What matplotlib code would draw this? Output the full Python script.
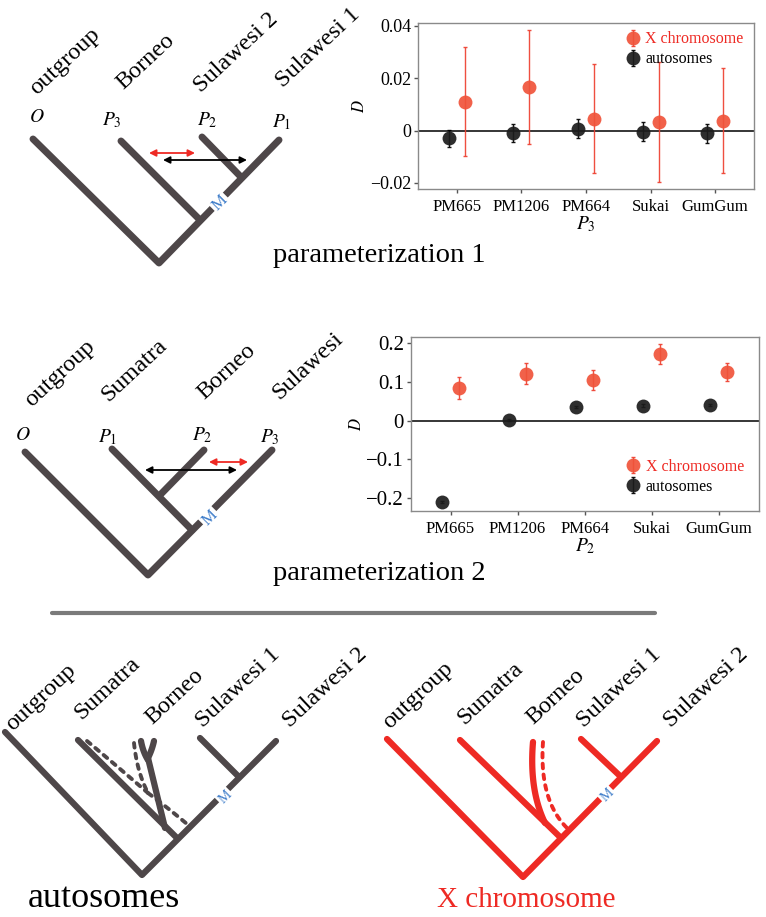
import numpy as np
import matplotlib
matplotlib.use('Agg')
import matplotlib.pyplot as plt

plt.rcParams.update({
    'font.family': 'Liberation Serif',
    'mathtext.fontset': 'stix',
})

# ---- D statistics ----
samples = ['PM665', 'PM1206', 'PM664', 'Sukai', 'GumGum']

p1_auto = [-0.0028, -0.0009, 0.0008, -0.0004, -0.0011]
p1_auto_lo = [-0.0064, -0.0045, -0.0028, -0.0041, -0.0047]
p1_auto_hi = [0.0004, 0.0027, 0.0046, 0.0032, 0.0027]
p1_x = [0.0108, 0.0166, 0.0046, 0.0033, 0.0038]
p1_x_lo = [-0.0098, -0.0053, -0.0162, -0.0196, -0.0162]
p1_x_hi = [0.0318, 0.0386, 0.0256, 0.0262, 0.0238]

p2_auto = [-0.209, 0.001, 0.036, 0.039, 0.040]
p2_auto_lo = [-0.212, -0.002, 0.033, 0.036, 0.037]
p2_auto_hi = [-0.206, 0.004, 0.039, 0.042, 0.043]
p2_x = [0.084, 0.120, 0.105, 0.172, 0.126]
p2_x_lo = [0.056, 0.094, 0.079, 0.146, 0.103]
p2_x_hi = [0.112, 0.148, 0.131, 0.198, 0.148]

# ---- tree diagrams (page pixels, y down) ----
t1_names = ['outgroup', 'Borneo', 'Sulawesi 2', 'Sulawesi 1']
t1_name_xy = [(37, 95), (123, 90), (201, 93), (283, 88)]
t1_tags = ['$O$', '$P_3$', '$P_2$', '$P_1$']
t1_tag_xy = [(37, 118), (112, 120), (207, 120), (282, 122)]
t1_branches = [[(33, 139), (159, 263), (279, 140)],
               [(121, 141), (200, 220)],
               [(202, 137), (241, 177)]]
t1_m = (220, 203)
t1_red_arrow = [(149, 153), (195, 153)]
t1_black_arrow = [(163, 160), (247, 160)]

t2_names = ['outgroup', 'Sumatra', 'Borneo', 'Sulawesi']
t2_name_xy = [(32, 407), (108, 402), (204, 400), (279, 400)]
t2_tags = ['$O$', '$P_1$', '$P_2$', '$P_3$']
t2_tag_xy = [(23, 435), (108, 437), (202, 435), (270, 437)]
t2_branches = [[(25, 452), (148, 575), (272, 450)],
               [(112, 449), (192, 530)],
               [(204, 450), (161, 494)]]
t2_m = (210, 518)
t2_red_arrow = [(209, 462), (248, 462)]
t2_black_arrow = [(145, 470), (237, 470)]

t3_names = ['outgroup', 'Sumatra', 'Borneo', 'Sulawesi 1', 'Sulawesi 2']
t3_name_xy = [(13, 731), (81, 720), (152, 725), (203, 728), (290, 728)]
t3_branches = [[(5, 732), (142, 875), (276, 741)],
               [(78, 740), (177, 838)],
               [(200, 738), (238, 776)],
               [(148, 758), (165, 828)]]
t3_curves = [[(141, 741), (143, 752), (148, 760)],
             [(154, 741), (152, 750), (148, 758)]]
t3_dashed = [[(87, 741), (118, 767), (148, 793)],
             [(134, 743), (137, 772), (148, 793)],
             [(148, 793), (168, 808), (187, 824)]]
t3_m = (225, 797)

t4_names = ['outgroup', 'Sumatra', 'Borneo', 'Sulawesi 1', 'Sulawesi 2']
t4_name_xy = [(390, 729), (464, 725), (533, 725), (584, 728), (671, 728)]
t4_branches = [[(387, 739), (523, 877), (657, 741)],
               [(460, 740), (560, 837)],
               [(581, 739), (619, 775)]]
t4_curves = [[(533, 742), (529, 790), (545, 823)]]
t4_dashed = [[(543, 742), (539, 800), (567, 828)]]
t4_m = (607, 795)

sep_line = [(52, 613), (655, 613)]

GREY = '#4e4749'
RED = '#ee2a24'
BLUE = '#3d7cc9'
PT_RED = '#f0533a'

fig = plt.figure(figsize=(7.66, 9.17), dpi=100)
bg = fig.add_axes([0, 0, 1, 1])
bg.set_xlim(0, 766)
bg.set_ylim(917, 0)
bg.axis('off')


def bezier(p):
    t = np.linspace(0, 1, 40)[:, None]
    p = np.array(p, dtype=float)
    pts = (1 - t) ** 2 * p[0] + 2 * (1 - t) * t * p[1] + t ** 2 * p[2]
    return pts[:, 0], pts[:, 1]


def draw_tree(branches, names, name_xy, color, lw, m_xy, m_size,
              curves=(), dashed=(), tags=None, tag_xy=None):
    for b in branches:
        xs, ys = zip(*b)
        bg.plot(xs, ys, color=color, lw=lw, solid_capstyle='round',
                solid_joinstyle='round', zorder=2)
    for c in curves:
        xs, ys = bezier(c)
        bg.plot(xs, ys, color=color, lw=lw, solid_capstyle='round', zorder=2)
    for d in dashed:
        xs, ys = bezier(d)
        bg.plot(xs, ys, color=color, lw=lw * 0.62, ls=(0, (1.2, 1.6)),
                dash_capstyle='round', zorder=2)
    for n, (x, y) in zip(names, name_xy):
        bg.text(x, y, n, rotation=43, rotation_mode='anchor', ha='left',
                va='baseline', fontsize=17.5)
    if tags is not None:
        for tg, (x, y) in zip(tags, tag_xy):
            bg.text(x, y, tg, ha='center', va='center', fontsize=14)
    bg.text(m_xy[0], m_xy[1], 'M', rotation=45, color=BLUE, fontsize=m_size,
            ha='center', va='center', zorder=5,
            bbox=dict(boxstyle='square,pad=0.12', fc='white', ec='none'))


def arrow(seg, color):
    bg.annotate('', xy=seg[1], xytext=seg[0],
                arrowprops=dict(arrowstyle='<|-|>', color=color, lw=1.3,
                                mutation_scale=10, shrinkA=0, shrinkB=0))


draw_tree(t1_branches, t1_names, t1_name_xy, GREY, 5, t1_m, 12,
          tags=t1_tags, tag_xy=t1_tag_xy)
arrow(t1_red_arrow, RED)
arrow(t1_black_arrow, 'black')
bg.text(273, 262, 'parameterization 1', fontsize=20.5, ha='left', va='baseline')

draw_tree(t2_branches, t2_names, t2_name_xy, GREY, 5, t2_m, 12,
          tags=t2_tags, tag_xy=t2_tag_xy)
arrow(t2_red_arrow, RED)
arrow(t2_black_arrow, 'black')
bg.text(273, 580, 'parameterization 2', fontsize=20.5, ha='left', va='baseline')

xs, ys = zip(*sep_line)
bg.plot(xs, ys, color='#7a7a7a', lw=3, solid_capstyle='round')

draw_tree(t3_branches, t3_names, t3_name_xy, GREY, 4.5, t3_m, 10,
          curves=t3_curves, dashed=t3_dashed)
bg.text(28, 907, 'autosomes', fontsize=26, ha='left', va='baseline')

draw_tree(t4_branches, t4_names, t4_name_xy, RED, 4.5, t4_m, 10,
          curves=t4_curves, dashed=t4_dashed)
bg.text(437, 907, 'X chromosome', fontsize=21, color=RED, ha='left',
        va='baseline')


# ---- D statistic panels ----
def panel(rect, auto, auto_lo, auto_hi, xv, x_lo, x_hi, ylim, xlim, yticks,
          ylabels, ytick_size, xlab, leg_anchor):
    W, H = 766.0, 917.0
    l, t, r, b = rect
    ax = fig.add_axes([l / W, 1 - b / H, (r - l) / W, (b - t) / H])
    pos = np.arange(1, len(samples) + 1)
    auto = np.array(auto)
    xv = np.array(xv)
    ax.axhline(0, color='black', lw=1.1, zorder=1)
    hx = ax.errorbar(pos + 0.125, xv,
                     yerr=[xv - np.array(x_lo), np.array(x_hi) - xv],
                     fmt='o', ms=10, color=PT_RED, mec='none', ecolor='#ee4030',
                     elinewidth=1, capsize=1.5, capthick=1, alpha=0.92,
                     label='X chromosome', zorder=3)
    ha = ax.errorbar(pos - 0.125, auto,
                     yerr=[auto - np.array(auto_lo), np.array(auto_hi) - auto],
                     fmt='o', ms=10, color='#1c1c1c', mec='none',
                     ecolor='black', elinewidth=1, capsize=1.5, capthick=1,
                     alpha=0.92, label='autosomes', zorder=3)
    ax.set_xlim(*xlim)
    ax.set_ylim(*ylim)
    ax.set_xticks(pos)
    ax.set_xticklabels(samples, fontsize=12)
    ax.set_yticks(yticks)
    ax.set_yticklabels(ylabels, fontsize=ytick_size)
    ax.tick_params(direction='out', length=3, width=1, color='#555555', pad=2)
    ax.tick_params(axis='x', pad=4)
    for s in ax.spines.values():
        s.set_color('#8a8a8a')
        s.set_linewidth(1)
    ax.set_ylabel('$D$', fontsize=12, labelpad=1)
    ax.set_xlabel(xlab, fontsize=14, labelpad=0)
    ax.legend([hx, ha], ['X chromosome', 'autosomes'], loc='upper left',
              bbox_to_anchor=leg_anchor, frameon=False, fontsize=11.5,
              labelcolor=[RED, 'black'], handlelength=0.8, handletextpad=0.4,
              borderaxespad=0, borderpad=0, labelspacing=0.25)
    return ax


panel((418, 23, 754, 189), p1_auto, p1_auto_lo, p1_auto_hi,
      p1_x, p1_x_lo, p1_x_hi, (-0.0223, 0.0411), (0.4, 5.6),
      [-0.02, 0, 0.02, 0.04], ['\u22120.02', '0', '0.02', '0.04'], 13,
      '$P_3$', (0.62, 0.95))

panel((411, 337, 759, 511), p2_auto, p2_auto_lo, p2_auto_hi,
      p2_x, p2_x_lo, p2_x_hi, (-0.233, 0.216), (0.41, 5.6),
      [-0.2, -0.1, 0, 0.1, 0.2], ['\u22120.2', '\u22120.1', '0', '0.1', '0.2'],
      15, '$P_2$', (0.62, 0.3))

fig.savefig('out.png', dpi=100)
